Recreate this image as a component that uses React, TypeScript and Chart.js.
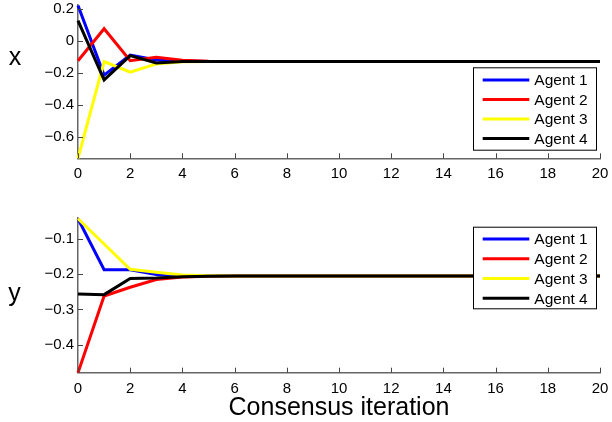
import React, { useEffect, useRef } from 'react';
import { Chart, registerables } from 'chart.js';

Chart.register(...registerables);

const FONT = '"Liberation Sans", Arial, Helvetica, sans-serif';

// Consensus iteration index (x values)
const iterations = [0, 1, 2, 3, 4, 5, 6, 7, 8, 9, 10, 11, 12, 13, 14, 15, 16, 17, 18, 19, 20];
const agentLabels = ['Agent 1', 'Agent 2', 'Agent 3', 'Agent 4'];
const agentColors = ['#0000ff', '#ff0000', '#ffff00', '#000000'];

// x-coordinate estimates per agent
const agent1X = [0.22, -0.215, -0.09, -0.12, -0.127, -0.13, -0.13, -0.13, -0.13, -0.13, -0.13, -0.13, -0.13, -0.13, -0.13, -0.13, -0.13, -0.13, -0.13, -0.13, -0.13];
const agent2X = [-0.125, 0.075, -0.125, -0.104, -0.122, -0.129, -0.13, -0.13, -0.13, -0.13, -0.13, -0.13, -0.13, -0.13, -0.13, -0.13, -0.13, -0.13, -0.13, -0.13, -0.13];
const agent3X = [-0.735, -0.13, -0.197, -0.145, -0.132, -0.13, -0.13, -0.13, -0.13, -0.13, -0.13, -0.13, -0.13, -0.13, -0.13, -0.13, -0.13, -0.13, -0.13, -0.13, -0.13];
const agent4X = [0.125, -0.245, -0.093, -0.139, -0.13, -0.13, -0.13, -0.13, -0.13, -0.13, -0.13, -0.13, -0.13, -0.13, -0.13, -0.13, -0.13, -0.13, -0.13, -0.13, -0.13];

// y-coordinate estimates per agent
const agent1Y = [-0.042, -0.187, -0.187, -0.201, -0.204, -0.205, -0.205, -0.205, -0.205, -0.205, -0.205, -0.205, -0.205, -0.205, -0.205, -0.205, -0.205, -0.205, -0.205, -0.205, -0.205];
const agent2Y = [-0.48, -0.262, -0.237, -0.215, -0.208, -0.206, -0.205, -0.205, -0.205, -0.205, -0.205, -0.205, -0.205, -0.205, -0.205, -0.205, -0.205, -0.205, -0.205, -0.205, -0.205];
const agent3Y = [-0.042, -0.114, -0.186, -0.194, -0.202, -0.204, -0.205, -0.205, -0.205, -0.205, -0.205, -0.205, -0.205, -0.205, -0.205, -0.205, -0.205, -0.205, -0.205, -0.205, -0.205];
const agent4Y = [-0.256, -0.258, -0.212, -0.211, -0.207, -0.206, -0.205, -0.205, -0.205, -0.205, -0.205, -0.205, -0.205, -0.205, -0.205, -0.205, -0.205, -0.205, -0.205, -0.205, -0.205];

// axis ticks and limits
const xTicks = [0, 2, 4, 6, 8, 10, 12, 14, 16, 18, 20];
const topYTicks = [-0.6, -0.4, -0.2, 0, 0.2];
const bottomYTicks = [-0.4, -0.3, -0.2, -0.1];
const topYRange = [-0.735, 0.225];
const bottomYRange = [-0.48, -0.04];

const fmt = (v: number) => (v < 0 ? '\u2212' + String(Math.abs(v)) : String(v));

const decor = {
  id: 'decor',
  afterDraw(chart: any, _args: any, o: any) {
    const ctx = chart.ctx;
    const area = chart.chartArea;
    const xs = chart.scales.x;
    const ys = chart.scales.y;
    ctx.save();
    // inward tick marks
    ctx.strokeStyle = '#444';
    ctx.lineWidth = 1;
    ctx.beginPath();
    xs.ticks.forEach((t: any) => {
      const px = Math.round(xs.getPixelForValue(t.value)) + 0.5;
      ctx.moveTo(px, area.bottom);
      ctx.lineTo(px, area.bottom - 5);
    });
    ys.ticks.forEach((t: any) => {
      const py = Math.round(ys.getPixelForValue(t.value)) + 0.5;
      ctx.moveTo(area.left, py);
      ctx.lineTo(area.left + 5, py);
    });
    ctx.stroke();
    // horizontal axis label (x / y)
    ctx.fillStyle = '#000';
    ctx.font = `25px ${FONT}`;
    ctx.textAlign = 'center';
    ctx.textBaseline = 'alphabetic';
    ctx.fillText(o.axisLabel, o.axisLabelX, o.axisLabelY);
    // legend box
    const L = o.legend;
    ctx.fillStyle = '#ffffff';
    ctx.fillRect(L.left, L.top, L.width, L.height);
    ctx.strokeStyle = '#000';
    ctx.lineWidth = 1;
    ctx.strokeRect(L.left + 0.5, L.top + 0.5, L.width - 1, L.height - 1);
    chart.data.datasets.forEach((ds: any, i: number) => {
      const cy = L.top + L.firstRow + i * L.rowGap;
      ctx.strokeStyle = ds.borderColor;
      ctx.lineWidth = 3;
      ctx.beginPath();
      ctx.moveTo(L.left + L.lineX0, cy);
      ctx.lineTo(L.left + L.lineX1, cy);
      ctx.stroke();
      ctx.fillStyle = '#000';
      ctx.font = `15.5px ${FONT}`;
      ctx.textAlign = 'left';
      ctx.textBaseline = 'middle';
      ctx.fillText(ds.label, L.left + L.textX, cy + 1);
    });
    ctx.restore();
  },
};

function makeConfig(
  series: number[][],
  yRange: number[],
  yTicks: number[],
  padTop: number,
  xAxisHeight: number,
  decorOpts: any,
  title: string | null
): any {
  return {
    type: 'line',
    data: {
      datasets: series.map((arr, i) => ({
        label: agentLabels[i],
        data: iterations.map((x, j) => ({ x, y: arr[j] })),
        borderColor: agentColors[i],
        backgroundColor: agentColors[i],
        borderWidth: 3,
        pointRadius: 0,
        tension: 0,
        fill: false,
        clip: false,
        order: 4 - i,
      })),
    },
    options: {
      responsive: false,
      animation: false,
      events: [],
      layout: { padding: { top: padTop, right: 12, bottom: 0, left: 0 } },
      plugins: {
        legend: { display: false },
        title: { display: false },
        tooltip: { enabled: false },
        decor: decorOpts,
      },
      scales: {
        x: {
          type: 'linear',
          min: 0,
          max: 20,
          afterBuildTicks: (s: any) => {
            s.ticks = xTicks.map((v) => ({ value: v }));
          },
          afterFit: (s: any) => {
            s.height = xAxisHeight;
            s.paddingLeft = 0;
            s.paddingRight = 0;
          },
          grid: { display: false, drawTicks: false },
          border: { display: true, color: '#666', width: 1.5 },
          ticks: {
            color: '#000',
            font: { family: FONT, size: 15 },
            padding: 7,
            maxRotation: 0,
            autoSkip: false,
            callback: (v: number) => fmt(v),
          },
          title: title
            ? {
                display: true,
                text: title,
                color: '#000',
                font: { family: FONT, size: 25 },
                padding: { top: 0, bottom: -1 },
              }
            : { display: false },
        },
        y: {
          type: 'linear',
          min: yRange[0],
          max: yRange[1],
          afterBuildTicks: (s: any) => {
            s.ticks = yTicks.map((v) => ({ value: v }));
          },
          afterFit: (s: any) => {
            s.width = 78;
            s.paddingTop = 0;
            s.paddingBottom = 0;
          },
          grid: { display: false, drawTicks: false },
          border: { display: true, color: '#666', width: 1.5 },
          ticks: {
            color: '#000',
            font: { family: FONT, size: 15 },
            padding: 4,
            autoSkip: false,
            callback: (v: number) => fmt(v),
          },
        },
      },
    },
    plugins: [decor],
  };
}

export default function App() {
  const topRef = useRef<HTMLCanvasElement>(null);
  const bottomRef = useRef<HTMLCanvasElement>(null);

  useEffect(() => {
    const c1 = new Chart(
      topRef.current as HTMLCanvasElement,
      makeConfig(
        [agent1X, agent2X, agent3X, agent4X],
        topYRange,
        topYTicks,
        4.7,
        31.7,
        {
          axisLabel: 'x',
          axisLabelX: 15,
          axisLabelY: 65,
          legend: { left: 473, top: 67.3, width: 124, height: 83.4, firstRow: 12.7, rowGap: 19.5, lineX0: 9.7, lineX1: 56.3, textX: 61.3 },
        },
        null
      )
    );
    const c2 = new Chart(
      bottomRef.current as HTMLCanvasElement,
      makeConfig(
        [agent1Y, agent2Y, agent3Y, agent4Y],
        bottomYRange,
        bottomYTicks,
        28,
        49.3,
        {
          axisLabel: 'y',
          axisLabelX: 14.5,
          axisLabelY: 111,
          legend: { left: 473, top: 36.7, width: 124, height: 82.6, firstRow: 12.2, rowGap: 19.8, lineX0: 9.7, lineX1: 56.3, textX: 61.3 },
        },
        'Consensus iteration'
      )
    );
    return () => {
      c1.destroy();
      c2.destroy();
    };
  }, []);

  return (
    <div style={{ position: 'absolute', left: 0, top: 0, width: 612, height: 422, background: '#fff' }}>
      <canvas ref={topRef} width={612} height={190} style={{ position: 'absolute', left: 0, top: 0, display: 'block' }} />
      <canvas ref={bottomRef} width={612} height={232} style={{ position: 'absolute', left: 0, top: 190, display: 'block' }} />
    </div>
  );
}
